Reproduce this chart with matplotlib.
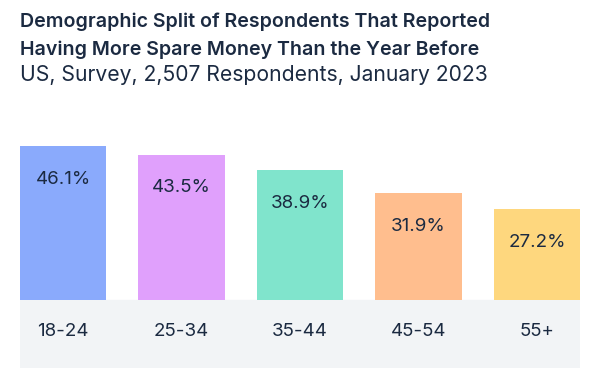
import matplotlib
matplotlib.use('Agg')
import matplotlib.pyplot as plt

# chart data
ages = ['18-24', '25-34', '35-44', '45-54', '55+']
share = [46.1, 43.5, 38.9, 31.9, 27.2]
colors = ['#8aaafc', '#e0a0fc', '#80e4cc', '#ffbe8e', '#fed77e']

title_lines = ['Demographic Split of Respondents That Reported',
               'Having More Spare Money Than the Year Before']
subtitle = 'US, Survey, 2,507 Respondents, January 2023'

ink = '#1b2a41'
plt.rcParams['font.family'] = ['Inter', 'DejaVu Sans']

W, H = 595, 387
fig = plt.figure(figsize=(W / 100, H / 100), dpi=100)

# axes: x 20..580 px, y 130..368 px (from top)
ax = fig.add_axes([20 / W, (H - 368) / H, 560 / W, 238 / H])
pxu = 3.34  # pixels per percentage point
band = 68 / pxu
ax.set_ylim(-band, 170 / pxu)
ax.set_xlim(-0.363, len(ages) - 1 + 0.363)

ax.axhspan(-band, 0, color='#f2f4f6', zorder=0)
bars = ax.bar(range(len(ages)), share, width=0.726, color=colors, zorder=2)

for i, v in enumerate(share):
    ax.text(i, v - 33 / pxu, f'{v}%', ha='center', va='center',
            fontsize=13.5, color=ink, zorder=3)
    ax.text(i, -32 / pxu, ages[i], ha='center', va='center',
            fontsize=13.5, color=ink, zorder=3)

ax.axis('off')

fig.text(20 / W, 1 - 27 / H, title_lines[0], ha='left', va='baseline',
         fontsize=14.1, fontweight='semibold', color=ink)
fig.text(20 / W, 1 - 55 / H, title_lines[1], ha='left', va='baseline',
         fontsize=14.1, fontweight='semibold', color=ink)
fig.text(20 / W, 1 - 81 / H, subtitle, ha='left', va='baseline',
         fontsize=15.2, color=ink)

fig.savefig('out.png', dpi=100)
